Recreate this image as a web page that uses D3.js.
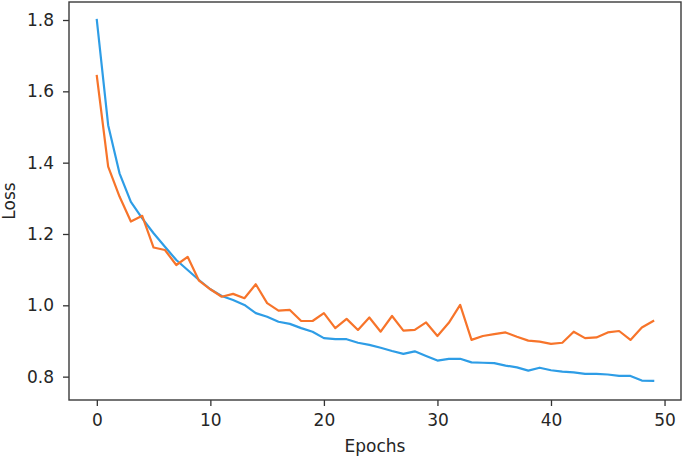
<!DOCTYPE html>
<html>
<head>
<meta charset="utf-8">
<script src="https://cdn.jsdelivr.net/npm/d3@7"></script>
<style>
  html, body { margin: 0; padding: 0; background: #fff; }
  svg { display: block; }
  text { font-family: "DejaVu Sans", sans-serif; fill: #262626; }
</style>
</head>
<body>
<svg id="chart" width="685" height="459"></svg>
<script>
const epochs = d3.range(50);
const trainLoss = [1.80, 1.505, 1.37, 1.29, 1.244, 1.202, 1.164, 1.127, 1.099, 1.071,
  1.045, 1.026, 1.015, 1.001, 0.978, 0.968, 0.954, 0.948, 0.936, 0.926,
  0.908, 0.905, 0.905, 0.895, 0.889, 0.881, 0.872, 0.864, 0.871, 0.858,
  0.845, 0.850, 0.850, 0.840, 0.839, 0.838, 0.831, 0.826, 0.817, 0.825,
  0.818, 0.814, 0.812, 0.808, 0.808, 0.806, 0.802, 0.802, 0.789, 0.788];
const valLoss = [1.643, 1.389, 1.305, 1.235, 1.251, 1.162, 1.155, 1.113, 1.136, 1.069,
  1.045, 1.024, 1.032, 1.020, 1.059, 1.006, 0.985, 0.987, 0.956, 0.956,
  0.978, 0.936, 0.962, 0.931, 0.966, 0.926, 0.970, 0.929, 0.931, 0.952,
  0.914, 0.951, 1.001, 0.903, 0.914, 0.919, 0.924, 0.912, 0.901, 0.898,
  0.892, 0.895, 0.926, 0.908, 0.910, 0.924, 0.928, 0.903, 0.938, 0.956];
const xTicks = [0, 10, 20, 30, 40, 50];
const yTicks = [0.8, 1.0, 1.2, 1.4, 1.6, 1.8];
const xLabel = "Epochs";
const yLabel = "Loss";

const mLeft = 69, mRight = 681, mTop = 2, mBottom = 400;
const svg = d3.select("#chart");

const x = d3.scaleLinear().domain([-2.45, 51.45]).range([mLeft, mRight]);
const y = d3.scaleLinear().domain([0.7345, 1.8505]).range([mBottom, mTop]);

const line = d3.line().x((d, i) => x(epochs[i])).y(d => y(d));

svg.append("path").datum(trainLoss)
  .attr("d", line).attr("fill", "none")
  .attr("stroke", "#2e9de6").attr("stroke-width", 2.2)
  .attr("stroke-linejoin", "round").attr("stroke-linecap", "square");
svg.append("path").datum(valLoss)
  .attr("d", line).attr("fill", "none")
  .attr("stroke", "#f7742a").attr("stroke-width", 2.2)
  .attr("stroke-linejoin", "round").attr("stroke-linecap", "square");

const xAxis = d3.axisBottom(x).tickValues(xTicks).tickSize(6).tickPadding(8).tickFormat(d3.format("d"));
const yAxis = d3.axisLeft(y).tickValues(yTicks).tickSize(6).tickPadding(9).tickFormat(d3.format(".1f"));

const gx = svg.append("g").attr("transform", `translate(0,${mBottom})`).call(xAxis);
const gy = svg.append("g").attr("transform", `translate(${mLeft},0)`).call(yAxis);
[gx, gy].forEach(g => {
  g.select(".domain").remove();
  g.selectAll(".tick line").attr("stroke", "#333").attr("stroke-width", 1.3);
  g.selectAll(".tick text").attr("font-size", 17).attr("fill", "#262626")
    .attr("font-family", "DejaVu Sans, sans-serif");
});

svg.append("rect")
  .attr("x", mLeft).attr("y", mTop)
  .attr("width", mRight - mLeft).attr("height", mBottom - mTop)
  .attr("fill", "none").attr("stroke", "#3a3a3a").attr("stroke-width", 1.4);

svg.append("text").text(xLabel)
  .attr("x", (mLeft + mRight) / 2).attr("y", 452)
  .attr("text-anchor", "middle").attr("font-size", 17);
svg.append("text").text(yLabel)
  .attr("transform", `translate(15,${(mTop + mBottom) / 2}) rotate(-90)`)
  .attr("text-anchor", "middle").attr("font-size", 17);
</script>
</body>
</html>
